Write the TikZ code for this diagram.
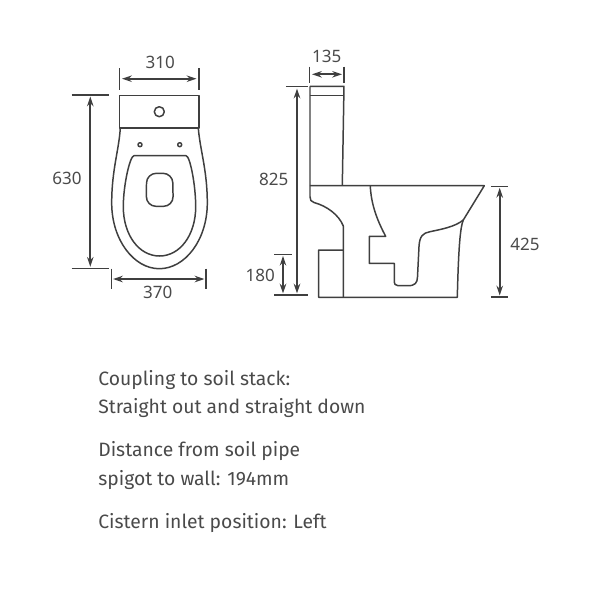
\documentclass[tikz,border=0pt]{standalone}
\usepackage{fontspec}
\setmainfont{Noto Sans}
\newfontfamily\notefont{Fira Sans}
\usetikzlibrary{arrows.meta}
\definecolor{inkline}{HTML}{3F3F3F}
\definecolor{inktext}{HTML}{4A4A4A}
\tikzset{
  shape line/.style={draw=inkline,line width=.85pt,line join=round},
  ext line/.style={draw=inkline,line width=.75pt},
  dim line/.style={draw=inkline,line width=1pt,{Stealth[length=5.6pt,width=3.7pt]}-{Stealth[length=5.6pt,width=3.7pt]}},
  dim label/.style={text=inktext,font=\fontsize{9.7}{11}\selectfont,inner sep=0pt},
  note text/.style={text=inktext,font=\notefont\fontsize{11}{13}\selectfont,inner sep=0pt,anchor=base west}
}
\begin{document}
\begin{tikzpicture}[x=.02cm,y=-.02cm]
    \useasboundingbox (0,0) rectangle (600,600);
    % top view
    \draw[shape line] (119.3,95.7) rectangle (199,128);
    \draw[shape line] (159.3,111.7) circle (5);
    \draw[shape line] (140,144.7) circle (2);
    \draw[shape line] (179.7,144.7) circle (2);
    \draw[shape line] (120.3,128) .. controls (119,150) and (111.7,170) .. (111.7,203)
      .. controls (111.7,240) and (134,268.7) .. (159.3,268.7)
      .. controls (185,268.7) and (207.3,240) .. (207.3,203)
      .. controls (207.3,170) and (200,150) .. (198.3,128);
    \draw[shape line] (134,155.7) -- (186,155.7)
      .. controls (190,155.7) and (195.7,185) .. (195.7,206.7)
      .. controls (195.7,235) and (180,256) .. (159.5,256)
      .. controls (139,256) and (123.3,235) .. (123.3,206.7)
      .. controls (123.3,185) and (130,155.7) .. (134,155.7) -- cycle;
    \draw[shape line,rounded corners=5.5] (146.6,173.3) -- (172.7,173.3) -- (173.2,206.3) -- (146.3,206.3) -- cycle;
    % top view dimensions
    \draw[ext line] (119.3,68) -- +(0,22);
    \draw[ext line] (199,68) -- +(0,22);
    \draw[dim line] (122,78.7) -- (196.5,78.7);
    \node[dim label] (lbl310) at (160.3,62.5) {310};
    \draw[ext line] (71.7,95) -- (108.7,95);
    \draw[ext line] (71.7,268.3) -- (108.7,268.3);
    \draw[dim line] (90.3,96.5) -- (90.3,266.8);
    \node[dim label] (lbl630) at (67,178) {630};
    \draw[ext line] (111.7,268.7) -- +(0,20.6);
    \draw[ext line] (206,268.7) -- +(0,20.6);
    \draw[dim line] (113,279) -- (204.5,279);
    \node[dim label] (lbl370) at (157.7,292.5) {370};
    % side view
    \draw[shape line] (310,86.3) -- (344,86.3) -- (342.3,185.7);
    \draw[shape line] (310,95.3) -- (343.8,95.3);
    \draw[shape line] (310,86.3) -- (310,196.7)
      .. controls (310,200) and (311,201.5) .. (314,202.5)
      .. controls (327,206) and (339,215) .. (343.3,226) -- (343.3,297.3);
    \draw[shape line] (310,185.7) -- (484.3,185.7) -- (463.3,220)
      .. controls (460,228) and (458.5,250) .. (457.3,297.3) -- (318.7,297.3) -- (318.7,250) -- (343.3,250);
    \draw[shape line] (370.3,185.7) .. controls (371,205) and (378,222) .. (385.7,236.3)
      -- (369.3,236.3) -- (369.3,263.3) -- (394.3,263.3) -- (394.3,280)
      .. controls (394.3,284) and (395,285.7) .. (398,285.7) -- (408,285.7)
      .. controls (415,285.7) and (417.3,283) .. (417.5,277) -- (419,246.7)
      .. controls (419.5,236) and (423,233) .. (430,231.7)
      .. controls (440,229.5) and (455,227) .. (463.3,220);
    % side view dimensions
    \draw[ext line] (309.7,66.7) -- +(0,16.6);
    \draw[ext line] (344,66.7) -- +(0,16.6);
    \draw[dim line] (312,74.3) -- (342,74.3);
    \node[dim label] (lbl135) at (326.7,56) {135};
    \draw[ext line] (286,86.3) -- (308.3,86.3);
    \draw[ext line] (274.3,295) -- (308.3,295);
    \draw[dim line] (297,88.5) -- (297,293.5);
    \node[dim label] (lbl825) at (273.7,179.7) {825};
    \draw[ext line] (274.3,254.3) -- (291.7,254.3);
    \draw[dim line] (283,255.8) -- (283,293.5);
    \node[dim label] (lbl180) at (260.3,275.3) {180};
    \draw[ext line] (491,186.3) -- (508.3,186.3);
    \draw[ext line] (491,297) -- (508.3,297);
    \draw[dim line] (499.7,187.8) -- (499.7,295.5);
    \node[dim label] (lbl425) at (525,244.3) {425};
    % notes
    \node[note text] (noteCoupling) at (98,385) {Coupling to soil stack:};
    \node[note text] (noteStraight) at (98,413) {Straight out and straight down};
    \node[note text] (noteDistance) at (98,456.7) {Distance from soil pipe};
    \node[note text] (noteSpigot) at (98,485) {spigot to wall: 194mm};
    \node[note text] (noteInlet) at (98,528) {Cistern inlet position: Left};
\end{tikzpicture}
\end{document}
